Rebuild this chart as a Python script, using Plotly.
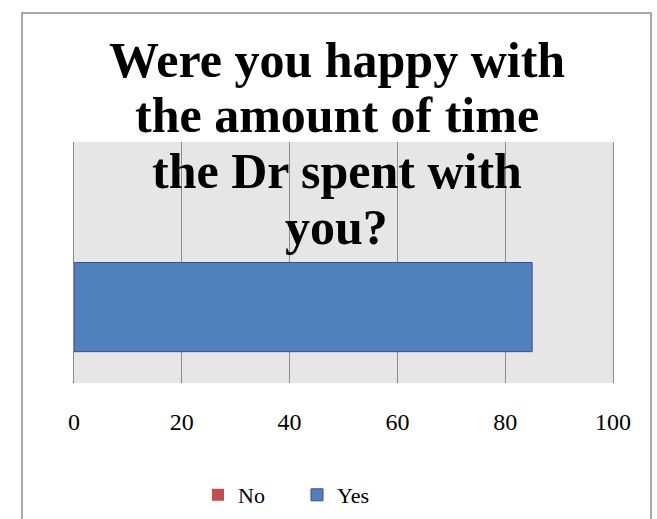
import plotly.graph_objects as go

categories = ["Q"]
no_values = [0]
yes_values = [85]
x_ticks = [0, 20, 40, 60, 80, 100]
title_lines = ["Were you happy with", "the amount of time", "the Dr spent with", "you?"]

fig = go.Figure()
# Yes first so it sits lower in the group (matches Excel ordering)
fig.add_trace(go.Bar(
    y=categories, x=yes_values, name="Yes", orientation="h",
    marker=dict(color="#4f81bd", line=dict(color="#3b4a9e", width=1)),
))
fig.add_trace(go.Bar(
    y=categories, x=no_values, name="No", orientation="h",
    marker=dict(color="#c0504d", line=dict(color="#c0504d", width=0)),
))

W, H = 657, 519
L, R, T, B = 74, 44, 142, 136
pw, ph = W - L - R, H - T - B

def py(pix):
    """pixel row (from top of figure) -> paper y"""
    return (T + ph - pix) / ph

def px(pix):
    return (pix - L) / pw

title_font = dict(family="Liberation Serif", size=50, color="black", weight="bold")
baselines = [79, 134, 190, 246]
annotations = []
for line, bl in zip(title_lines, baselines):
    annotations.append(dict(
        text=line, showarrow=False, xref="paper", yref="paper",
        x=px(336.5), xanchor="center",
        y=py(bl + 10), yanchor="bottom",
        font=title_font, borderpad=0,
    ))

fig.update_layout(
    width=W, height=H,
    margin=dict(l=L, r=R, t=T, b=B, pad=0, autoexpand=False),
    paper_bgcolor="white",
    plot_bgcolor="#e6e6e6",
    barmode="group",
    bargap=0.26,
    bargroupgap=0,
    showlegend=True,
    annotations=annotations,
    legend=dict(
        orientation="h", traceorder="reversed",
        x=px(198), xanchor="left",
        y=py(495), yanchor="middle",
        entrywidth=54, entrywidthmode="pixels",
        font=dict(family="Liberation Serif", size=22, color="black"),
        bgcolor="rgba(0,0,0,0)",
    ),
    xaxis=dict(
        range=[0, 100], tickvals=x_ticks, ticktext=[str(v) for v in x_ticks],
        showgrid=True, gridcolor="#8c8c8c", gridwidth=1,
        zeroline=False, showline=False, ticks="",
        ticklabelstandoff=22, automargin=False,
        tickfont=dict(family="Liberation Serif", size=24, color="black"),
    ),
    yaxis=dict(showticklabels=False, showgrid=False, zeroline=False, ticks="",
               automargin=False,
               showline=True, mirror=True, linecolor="#8c8c8c", linewidth=1),
    shapes=[dict(
        type="rect", xref="paper", yref="paper",
        x0=px(22), x1=px(651),
        y0=py(540), y1=py(13),
        line=dict(color="#8c8c8c", width=1.5), fillcolor="rgba(0,0,0,0)",
        layer="below",
    )],
)

fig.write_html("out.html", config={"displayModeBar": False},
               post_script="document.body.style.margin='0';document.body.style.overflow='hidden';")
